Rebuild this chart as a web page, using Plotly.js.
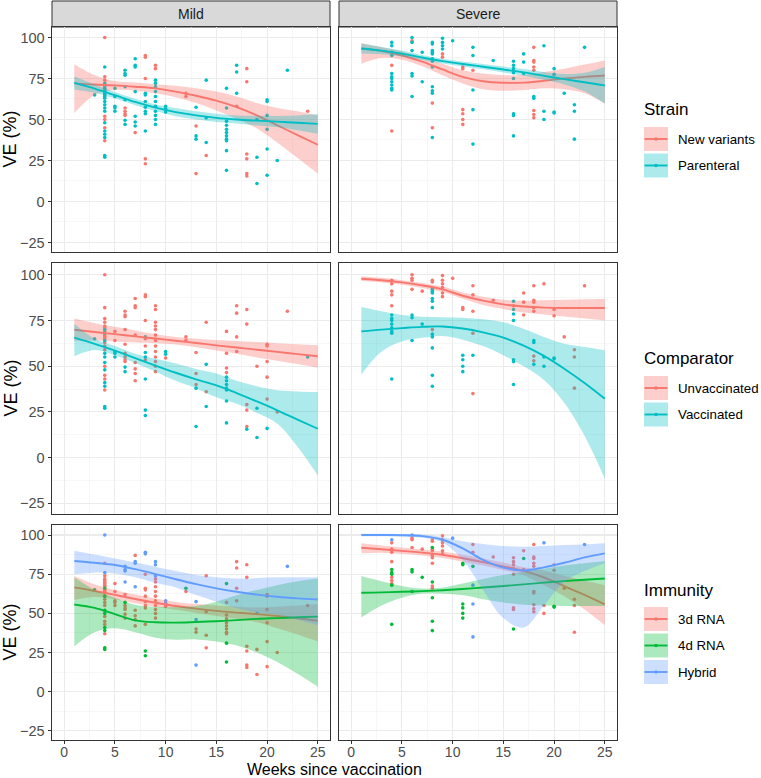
<!DOCTYPE html>
<html><head><meta charset="utf-8">
<script src="https://cdn.plot.ly/plotly-3.0.1.min.js"></script>
<style>html,body{margin:0;padding:0;background:#fff}</style>
</head><body><div id="chart" style="width:761px;height:778px"></div>
<script>
// ---------- categories / labels ----------
const outcomes = ['Mild', 'Severe'];
const strainLabels = ['New variants', 'Parenteral'];
const compLabels = ['Unvaccinated', 'Vaccinated'];
const immLabels = ['3d RNA', '4d RNA', 'Hybrid'];
const legendTitles = ['Strain', 'Comparator', 'Immunity'];
const xTitle = 'Weeks since vaccination';
const yTitle = 'VE (%)';
const col2 = ['#F8766D', '#00BFC4'];
const col3 = ['#F8766D', '#00BA38', '#619CFF'];
const fill2 = ['rgba(248,118,109,0.35)', 'rgba(0,191,196,0.32)'];
const fill3 = ['rgba(248,118,109,0.35)', 'rgba(0,186,56,0.32)', 'rgba(97,156,255,0.32)'];

// ---------- Mild outcome: study estimates ----------
const mildWeek = [3,
  4,4,4,4, 4,4,4,4, 4,4,4,4, 4,4,4,4, 4,4,4,4, 4,4,4,4, 4,4,4,4,
  5,5,5,5,5,
  6,6,6,6,6,6,6,6,6,6,6,
  7,7,7,7,7,7,7,7,
  8,8,8,8,8,8,8,8,8,8,8,8,
  9,9,9,9,9,9,9,9,9,9,9,9,9,
  10,10,10,
  12,12,
  13,13,13,13,13,
  14,14,14,14,
  16,16,16,16,16,16,16,16,16,16,16,
  17,17,17,17,
  18,18,18,18,18,18,
  19,19,19,
  20,20,20,20,20,20,
  21,22,24];
const mildVE = [65,
  100,82,76,74, 72,71,70,69, 68,67,66,65, 64,63,61,59, 57,55,52,50, 48,45,43,41, 39,37,28,27,
  69,64,58,57,55,
  80,78,77,70,62,57,55,53.5,52.5,49.5,47,
  87,83,82,67,52,48.5,46,42,
  89,88,75,66,65,61,57.5,55,53.5,43,26,23,
  83,81,74,72,70,67,64,61,58,55,52.5,50,47,
  58,56.5,54.5,
  66,64,
  57.5,46,40,38,17,
  74,51,36,28,
  69,57,49,46.5,44,42,40,38,37,31,19,
  83,79,66,58,
  81,73,29,26,17,15.5,
  50,27,11,
  62,61,52.5,44,32,16,
  25,80,55];
// index into strainLabels
const mildStrain = [1,
  0,1,0,0, 1,1,1,1, 1,1,1,1, 1,1,1,1, 1,1,0,0, 1,0,1,1, 1,0,1,1,
  1,1,1,1,1,
  1,1,1,1,1,0,0,0,0,1,1,
  1,1,1,1,1,1,1,0,
  0,0,0,1,1,1,1,1,1,1,0,0,
  0,0,1,1,1,1,1,1,1,1,1,1,1,
  1,1,1,
  0,0,
  1,0,1,1,0,
  1,1,1,0,
  1,1,1,1,1,1,1,1,1,1,1,
  1,1,1,0,
  0,0,0,0,0,0,
  1,1,1,
  1,1,1,1,1,1,
  1,1,0];
// index into compLabels
const mildComp = [1,
  0,0,0,0, 0,0,1,0, 1,0,0,0, 1,0,0,0, 1,1,1,0, 1,0,0,1, 1,0,1,1,
  0,0,1,1,1,
  0,0,0,0,0,0,0,0,0,1,1,
  0,0,0,0,0,0,0,0,
  0,0,0,1,0,0,1,1,0,1,1,1,
  0,0,0,0,0,0,0,0,0,0,0,0,0,
  1,1,0,
  0,0,
  0,0,0,1,1,
  0,1,0,1,
  0,0,0,0,1,1,1,1,1,1,1,
  0,0,0,0,
  0,0,0,0,0,1,
  0,1,1,
  0,0,0,0,0,1,
  0,0,1];
// index into immLabels
const mildImm = [1,
  2,0,2,0, 0,0,0,0, 0,0,1,0, 0,0,1,0, 0,0,1,1, 0,0,0,1, 1,0,1,1,
  0,0,0,0,0,
  2,2,2,2,0,1,0,0,0,0,0,
  0,2,2,2,0,0,0,0,
  2,2,0,0,0,0,0,0,0,0,1,1,
  2,2,2,0,0,0,0,0,0,0,0,0,0,
  2,2,0,
  1,0,
  2,2,0,0,2,
  0,0,0,0,
  1,0,0,0,0,0,0,0,0,1,1,
  0,0,0,0,
  0,0,0,0,0,0,
  2,0,0,
  0,0,0,0,0,0,
  0,2,0];

// ---------- Severe outcome: study estimates ----------
const sevWeek = [
  4,4,4,4,4,4,4,4,4,4,4,4,4,
  6,6,6,6,6,6,6,
  7,7,
  8,8,8,8,8,8,8,8,8,8,8,8,8,8,
  9,9,9,9,9,9,
  10,
  11,11,11,11,11,11,
  12,12,12,12,12,12,
  14,
  16,16,16,16,16,16,16,16,
  17,17,17,
  18,18,18,18,18,18,18,18,18,18,
  19,19,19,
  20,20,20,20,
  21,
  22,22,22,
  23];
const sevVE = [
  97,95,91,89,83,78,76,75,73,71,69,68,43,
  100,98,97,92,78,76.5,64,
  91,73,
  97,96,92,91,90,87,85.5,82,70,67.5,66,60,45,39,
  99.5,97,95,93,90,88,
  98,
  82,81,56,53.5,50,47,
  94,89,80,68,56,35,
  86,
  85.5,83,81,78.5,75,53.5,52.5,40,
  90,85,78,
  94,86,85,82,80,64,63,55.5,53,51,
  95,55,50,
  81,77.5,54.5,54,
  66,
  59,55,38,
  94];
const sevStrain = [
  1,1,1,1,0,1,1,1,1,1,1,1,0,
  1,0,1,1,1,1,1,
  1,1,
  1,1,1,1,1,1,1,1,1,1,1,0,0,1,
  1,1,1,1,0,0,
  1,
  0,0,0,0,0,0,
  1,1,0,1,1,1,
  1,
  1,1,1,1,1,1,1,1,
  1,1,1,
  0,0,0,0,0,1,1,0,0,0,
  1,1,1,
  1,1,1,1,
  1,
  1,1,1,
  1];
const sevComp = [
  0,0,0,0,0,1,1,1,1,1,1,1,1,
  0,0,0,0,1,1,1,
  0,1,
  0,0,1,1,1,1,1,1,0,1,1,1,1,1,
  0,0,0,0,0,0,
  0,
  0,0,1,1,1,1,
  0,0,0,0,1,0,
  0,
  1,0,1,1,1,1,1,1,
  0,0,0,
  0,0,0,0,0,1,1,0,0,1,
  0,1,1,
  0,0,1,1,
  0,
  0,0,0,
  0];
const sevImm = [
  2,0,0,0,0,1,1,1,0,0,0,1,1,
  2,0,0,0,1,1,1,
  0,1,
  0,0,1,0,0,0,0,0,1,0,0,1,1,1,
  0,0,0,0,0,0,
  2,
  1,1,1,1,1,1,
  0,0,1,2,2,2,
  0,
  0,0,0,0,0,0,0,1,
  0,1,0,
  0,0,0,0,0,0,0,0,0,0,
  2,0,0,
  0,0,1,1,
  0,
  0,0,0,
  2];

// ---------- smooth fits ----------
const fitWeeks = [1,3,5,7,9,11,13,15,17,19,21,23,25];
// Strain
const mildNewFit = [72,71.3,70.8,70,69,67,64.5,61.5,57.5,52.5,46.5,40.5,34.6];
const mildNewLo  = [54,65,68,67.5,66,63.5,60,55.5,50.5,44.5,36,26.5,17];
const mildNewHi  = [83.7,77,73.5,72.5,71.5,70.5,69,67,64,60,57,55,52.5];
const mildParFit = [72.3,68.8,64.8,60.7,57.2,54.5,52.5,51,50,49.3,48.7,48,47.3];
const mildParLo  = [68.3,66.3,62.8,58.7,55.2,52,50,48.5,47.5,46.3,45.2,43.5,41.3];
const mildParHi  = [76.3,71.3,66.8,62.7,59.2,57,55,53.5,52.5,52.3,52.2,52.5,53.3];
const sevNewFit = [93.3,91.8,89,85.3,80.5,76,73.3,72.4,72.5,73.6,75,76,76.8];
const sevNewLo  = [84,87.5,86.5,82.5,77,72,68.5,67.5,68,69,68.5,66,59.7];
const sevNewHi  = [96.7,94,91.5,88,84,80,78,77,77.3,79,81,83.5,86];
const sevParFit = [93.3,92,90.2,87.8,85.6,83.8,82.2,80.5,78.7,76.6,74.6,72.7,70.7];
const sevParLo  = [90.3,89.8,88.4,86.3,84.2,82.3,80.6,78.7,76.6,74.2,71.4,67,59.7];
const sevParHi  = [96.3,94.2,92,89.3,87,85.3,83.8,82.3,80.8,79,77.8,78.5,82];
// Comparator
const mildUnvFit = [69.9,68.7,67.5,66.3,65.1,63.9,62.7,61.4,60.2,59,57.8,56.6,55.4];
const mildUnvLo  = [63.8,64,63.5,63,62.6,61.8,60.4,58.6,56.8,54.8,53,51.2,49.2];
const mildUnvHi  = [76,73.5,71.5,69.5,67.5,66,65,64.3,63.7,63.2,62.6,62,61.4];
const mildVacFit = [65.6,62.2,58.5,54.4,50.3,46.4,42.8,39.5,35.3,30.7,25.9,20.8,15.8];
const mildVacLo  = [55.4,58.8,56,51.8,47,42,38,33,29.5,24.5,18.5,6,-9.7];
const mildVacHi  = [73.2,65,61,56.8,54,51.5,48.5,46,42,39,36.8,36.2,35.9];
const sevUnvFit = [97.8,97,95.8,94.2,92,88.5,85.8,83.8,82.6,82,81.8,81.8,81.8];
const sevUnvLo  = [96.5,95.8,94.5,92.8,90.5,86.8,83.5,81.2,79.3,78.2,77.2,76,75];
const sevUnvHi  = [99,98.3,97,95.5,93.5,90.3,88,86.3,85.8,86,86.3,86.6,86.9];
const sevVacFit = [69,70,70.8,71.5,71.7,70.6,68.5,65.6,61.2,55.6,48.6,40.8,32.2];
const sevVacLo  = [45.5,58,63.5,65.5,66.5,64.5,61,56,50,42.5,30,12,-11.5];
const sevVacHi  = [82.3,80,78,77,76.8,76.5,75.6,74,70.5,66,62.3,60.5,58.7];
// Immunity
const mild3dFit = [66.6,64.3,61.8,59.2,56.8,54.7,53,51.6,50.5,49.5,48.3,46.9,45.3];
const mild3dLo  = [58.5,60.5,59,56.5,54.2,52.3,50.3,48.3,46.5,44.3,40.5,36.5,32];
const mild3dHi  = [73.8,68.5,65,62,59.5,57.3,56,55,54.3,53.8,54.3,55,56];
const mild4dFit = [55.7,53.5,49.5,45.5,44.3,44.1,44.5,45,45.7,46.5,47,47.5,47.9];
const mild4dLo  = [29,38,40.5,38,34.5,33.2,33.4,32,29.5,25,19,11.5,3.2];
const mild4dHi  = [73,65,60,55.5,54.2,54,54.7,57.5,61.5,65,68,70.5,72.3];
const mildHybFit = [83.4,82.3,80.9,78.2,75.1,71.8,68.7,66,63.8,62,60.6,59.6,58.9];
const mildHybLo  = [75,76,75.5,73,69.5,66.5,61.7,57.5,53.2,50.5,49,46,42.5];
const mildHybHi  = [90,87.5,85,82.5,79.8,77,74.5,73,72.3,72.5,73,73,73];
const sev3dFit = [91.9,90.9,89.9,88.8,87.4,85.2,82.7,80,77.1,72.9,67.4,61.8,55.7];
const sev3dLo  = [88.3,88.7,87.9,87,85.3,83,80.5,77.6,74.4,68,61,52.5,42.5];
const sev3dHi  = [94.7,93.3,92,90.8,89.5,87.4,85,82.4,79.5,77.4,74,71,68];
const sev4dFit = [63.2,63.4,63.8,64.2,64.8,65.6,66.5,67.5,68.5,69.6,70.6,71.5,72.3];
const sev4dLo  = [47.4,55,60,62.5,62.5,61.5,59,57,55.5,55,54.7,54.7,54.7];
const sev4dHi  = [73.8,70.5,67.5,65.8,66.5,69,72,74.5,76.5,78.5,80.5,82,83.4];
const sevHybFit = [100,100,99.9,99.3,97,91.5,84.2,79.2,77.4,79.4,82.3,85.7,88.3];
const sevHybLo  = [99.2,99.2,99.1,98.2,95.2,84,65,47,41,55,70,77,82];
const sevHybHi  = [100.8,100.8,100.7,100.4,98.8,96,94.3,93,92.6,93,93.6,94,94.7];

// ---------- panel table ----------
const panels = [
  {row:0,col:0,week:mildWeek,ve:mildVE,cat:mildStrain,labels:strainLabels,colors:col2,fills:fill2,
   fits:[[mildNewFit,mildNewLo,mildNewHi],[mildParFit,mildParLo,mildParHi]]},
  {row:0,col:1,week:sevWeek,ve:sevVE,cat:sevStrain,labels:strainLabels,colors:col2,fills:fill2,
   fits:[[sevNewFit,sevNewLo,sevNewHi],[sevParFit,sevParLo,sevParHi]]},
  {row:1,col:0,week:mildWeek,ve:mildVE,cat:mildComp,labels:compLabels,colors:col2,fills:fill2,
   fits:[[mildUnvFit,mildUnvLo,mildUnvHi],[mildVacFit,mildVacLo,mildVacHi]]},
  {row:1,col:1,week:sevWeek,ve:sevVE,cat:sevComp,labels:compLabels,colors:col2,fills:fill2,
   fits:[[sevUnvFit,sevUnvLo,sevUnvHi],[sevVacFit,sevVacLo,sevVacHi]]},
  {row:2,col:0,week:mildWeek,ve:mildVE,cat:mildImm,labels:immLabels,colors:col3,fills:fill3,
   fits:[[mild3dFit,mild3dLo,mild3dHi],[mild4dFit,mild4dLo,mild4dHi],[mildHybFit,mildHybLo,mildHybHi]]},
  {row:2,col:1,week:sevWeek,ve:sevVE,cat:sevImm,labels:immLabels,colors:col3,fills:fill3,
   fits:[[sev3dFit,sev3dLo,sev3dHi],[sev4dFit,sev4dLo,sev4dHi],[sevHybFit,sevHybLo,sevHybHi]]}
];

// ---------- geometry ----------
const W = 761, H = 778;
const FONT = 'Liberation Sans, Arial, Helvetica, sans-serif';
const px = v => v / W;
const py = v => 1 - v / H;
const xDom = [[px(52), px(330)], [px(339), px(617)]];
const yDom = [[py(252), py(27)], [py(514), py(263)], [py(740), py(525)]];

const traces = [];
const layout = {
  width: W, height: H, margin: {l:0, r:0, t:0, b:0},
  paper_bgcolor: '#ffffff', plot_bgcolor: '#ffffff',
  showlegend: false, shapes: [], annotations: [], font: {family: FONT}
};

panels.forEach(p => {
  const n = p.row * 2 + p.col + 1;
  const sfx = n === 1 ? '' : String(n);
  const xa = 'x' + sfx, ya = 'y' + sfx;
  const bottom = p.row === 2, left = p.col === 0;
  layout['xaxis' + sfx] = {
    domain: xDom[p.col], anchor: ya, range: [-1.2, 26.2],
    tick0: 0, dtick: 5, showgrid: true, gridcolor: '#EBEBEB', gridwidth: 1.1,
    minor: {tick0: 0, dtick: 2.5, showgrid: true, gridcolor: '#F2F2F2', gridwidth: 0.6, ticks: ''},
    zeroline: false, showline: true, mirror: true, linecolor: '#333333', linewidth: 1,
    ticks: bottom ? 'outside' : '', ticklen: 3, tickwidth: 1, tickcolor: '#333333',
    ticklabelstandoff: -4,
    showticklabels: bottom, tickfont: {family: FONT, size: 14, color: '#4D4D4D'},
    fixedrange: true
  };
  layout['yaxis' + sfx] = {
    domain: yDom[p.row], anchor: xa, range: [-30.8, 106.4],
    tick0: 0, dtick: 25, showgrid: true, gridcolor: '#EBEBEB', gridwidth: 1.1,
    minor: {tick0: 0, dtick: 12.5, showgrid: true, gridcolor: '#F2F2F2', gridwidth: 0.6, ticks: ''},
    zeroline: false, showline: true, mirror: true, linecolor: '#333333', linewidth: 1,
    ticks: left ? 'outside' : '', ticklen: 3.5, tickwidth: 1, tickcolor: '#333333',
    showticklabels: left, tickfont: {family: FONT, size: 14.5, color: '#4D4D4D'},
    fixedrange: true
  };
  // points
  p.labels.forEach((lab, g) => {
    const xs = [], ys = [];
    p.week.forEach((w, i) => { if (p.cat[i] === g) { xs.push(w); ys.push(p.ve[i]); } });
    traces.push({type: 'scatter', mode: 'markers', x: xs, y: ys, xaxis: xa, yaxis: ya,
      marker: {size: 3.6, color: p.colors[g]}, hoverinfo: 'skip', name: lab});
  });
  // ribbons + lines
  p.fits.forEach((f, g) => {
    traces.push({type: 'scatter', mode: 'lines', x: fitWeeks, y: f[1], xaxis: xa, yaxis: ya,
      line: {width: 0, shape: 'spline', color: 'rgba(0,0,0,0)'}, hoverinfo: 'skip'});
    traces.push({type: 'scatter', mode: 'lines', x: fitWeeks, y: f[2], xaxis: xa, yaxis: ya,
      fill: 'tonexty', fillcolor: p.fills[g],
      line: {width: 0, shape: 'spline', color: 'rgba(0,0,0,0)'}, hoverinfo: 'skip'});
    traces.push({type: 'scatter', mode: 'lines', x: fitWeeks, y: f[0], xaxis: xa, yaxis: ya,
      line: {width: 1.9, shape: 'spline', color: p.colors[g]}, hoverinfo: 'skip', name: p.labels[g]});
  });
});

// facet strips
outcomes.forEach((o, c) => {
  layout.shapes.push({type: 'rect', xref: 'paper', yref: 'paper',
    x0: xDom[c][0], x1: xDom[c][1], y0: py(27), y1: py(1),
    fillcolor: '#D9D9D9', line: {color: '#333333', width: 1}, layer: 'below'});
  layout.annotations.push({xref: 'paper', yref: 'paper', x: (xDom[c][0] + xDom[c][1]) / 2, y: py(14),
    text: o, showarrow: false, xanchor: 'center', yanchor: 'middle',
    font: {family: FONT, size: 14, color: '#1A1A1A'}});
});

// y titles
yDom.forEach(d => {
  layout.annotations.push({xref: 'paper', yref: 'paper', x: px(10), y: (d[0] + d[1]) / 2,
    text: yTitle, textangle: -90, showarrow: false, xanchor: 'center', yanchor: 'middle',
    font: {family: FONT, size: 18, color: '#000000'}});
});
// x title
layout.annotations.push({xref: 'paper', yref: 'paper', x: (xDom[0][0] + xDom[1][1]) / 2, y: py(769.5),
  text: xTitle, showarrow: false, xanchor: 'center', yanchor: 'middle',
  font: {family: FONT, size: 16, color: '#000000'}});

// legends (one per row)
const legendSets = [
  {labels: strainLabels, colors: col2, fills: fill2, titleY: 110, keyTop: 127},
  {labels: compLabels, colors: col2, fills: fill2, titleY: 358, keyTop: 376},
  {labels: immLabels, colors: col3, fills: fill3, titleY: 590, keyTop: 607}
];
legendSets.forEach((L, r) => {
  layout.annotations.push({xref: 'paper', yref: 'paper', x: px(642), y: py(L.titleY),
    text: legendTitles[r], showarrow: false, xanchor: 'left', yanchor: 'middle',
    font: {family: FONT, size: 17, color: '#000000'}});
  L.labels.forEach((lab, g) => {
    const top = L.keyTop + g * 26.5, mid = top + 12;
    layout.shapes.push({type: 'rect', xref: 'paper', yref: 'paper',
      x0: px(644), x1: px(668), y0: py(top + 24), y1: py(top),
      fillcolor: L.fills[g], line: {width: 0}});
    layout.shapes.push({type: 'line', xref: 'paper', yref: 'paper',
      x0: px(644.5), x1: px(667.5), y0: py(mid), y1: py(mid),
      line: {color: L.colors[g], width: 1.9}});
    layout.shapes.push({type: 'circle', xref: 'paper', yref: 'paper',
      x0: px(654.3), x1: px(657.7), y0: py(mid + 1.7), y1: py(mid - 1.7),
      fillcolor: L.colors[g], line: {width: 0}});
    layout.annotations.push({xref: 'paper', yref: 'paper', x: px(676), y: py(mid),
      text: lab, showarrow: false, xanchor: 'left', yanchor: 'middle',
      font: {family: FONT, size: 13.3, color: '#000000'}});
  });
});

Plotly.newPlot('chart', traces, layout, {staticPlot: true, displayModeBar: false});
</script></body></html>
